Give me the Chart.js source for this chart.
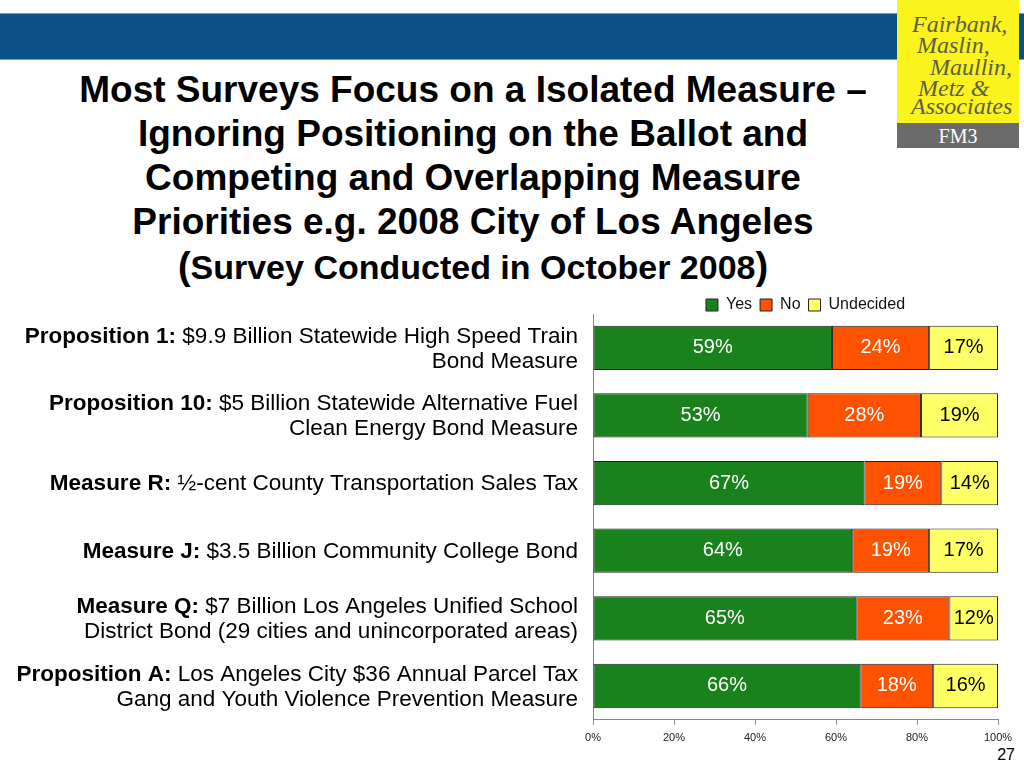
<!DOCTYPE html>
<html>
<head>
<meta charset="utf-8">
<script src="https://cdn.jsdelivr.net/npm/chart.js@4"></script>
<style>
  body { margin: 0; width: 1024px; height: 768px; position: relative; background: #fff; overflow: hidden;
         font-family: "Liberation Sans", Arial, sans-serif; }
  #band { position: absolute; left: 0; top: 13px; width: 1024px; height: 47px; background: #0a5089;
          border-top: 1px solid #6f9cc4; border-bottom: 1px solid #6f9cc4; box-sizing: border-box; }
  #logo { position: absolute; left: 897px; top: 0; width: 122px; height: 123px; background: #fbf31c; }
  #logo div { position: absolute; font-family: "Liberation Serif", "DejaVu Serif", serif; font-style: italic;
              font-size: 24px; color: #5e5d48; line-height: 21px; white-space: nowrap; }
  #fm3 { position: absolute; left: 897px; top: 123px; width: 122px; height: 25px; background: #6b6b6b;
         color: #fff; font-family: "Liberation Serif", serif; font-size: 20px; text-align: center; line-height: 27px; }
  #title { position: absolute; left: 0; top: 68px; width: 946px; text-align: center; font-weight: bold;
           font-size: 37px; line-height: 44px; color: #000; }
  #title .par { font-size: 38px; }
  #title .sub { font-size: 34px; }
  #page { position: absolute; right: 9px; top: 746px; font-size: 16px; color: #000; }
  #wrap { position: absolute; left: 0; top: 289px; width: 1024px; height: 467px; }
</style>
</head>
<body>
<div id="band"></div>
<div id="logo">
  <div style="left:15px;top:14px">Fairbank,</div>
  <div style="left:20px;top:35px">Maslin,</div>
  <div style="left:33px;top:57px">Maullin,</div>
  <div style="left:21px;top:78px">Metz &amp;</div>
  <div style="left:14px;top:96px">Associates</div>
</div>
<div id="fm3">FM3</div>
<div id="title">Most Surveys Focus on a Isolated Measure –<br>Ignoring Positioning on the Ballot and<br>Competing and Overlapping Measure<br>Priorities e.g. 2008 City of Los Angeles<br><span class="par">(</span><span class="sub">Survey Conducted in October 2008</span><span class="par">)</span></div>
<div id="page">27</div>
<div id="wrap"><canvas id="chart"></canvas></div>
<script>
// Datos de la encuesta (porcentajes)
const categoryTitles = ['Proposition 1:', 'Proposition 10:', 'Measure R:', 'Measure J:', 'Measure Q:', 'Proposition A:'];
const categoryDescs = [
  '$9.9 Billion Statewide High Speed Train\nBond Measure',
  '$5 Billion Statewide Alternative Fuel\nClean Energy Bond Measure',
  '½-cent County Transportation Sales Tax',
  '$3.5 Billion Community College Bond',
  '$7 Billion Los Angeles Unified School\nDistrict Bond (29 cities and unincorporated areas)',
  'Los Angeles City $36 Annual Parcel Tax\nGang and Youth Violence Prevention Measure'
];
const yesValues = [59, 53, 67, 64, 65, 66];
const noValues = [24, 28, 19, 19, 23, 18];
const undecidedValues = [17, 19, 14, 17, 12, 16];
const tickValues = [0, 20, 40, 60, 80, 100];

const FONT = '"Liberation Sans", Arial, sans-serif';
const LABEL_SIZE = 22.5;

// Etiquetas de categoria: parte en negrita + parte normal, alineadas a la derecha
const categoryLabels = {
  id: 'categoryLabels',
  afterDraw(chart) {
    const ctx = chart.ctx;
    const y = chart.scales.y;
    const right = chart.chartArea.left - 15;
    const lh = 25;
    ctx.save();
    ctx.fillStyle = '#000';
    ctx.textBaseline = 'middle';
    ctx.textAlign = 'left';
    categoryTitles.forEach((title, i) => {
      const lines = categoryDescs[i].split('\n');
      const cy = y.getPixelForValue(i) + 1;
      const top = cy - (lines.length - 1) * lh / 2;
      lines.forEach((line, j) => {
        const bold = j === 0 ? title + ' ' : '';
        ctx.font = 'bold ' + LABEL_SIZE + 'px ' + FONT;
        const bw = ctx.measureText(bold).width;
        ctx.font = LABEL_SIZE + 'px ' + FONT;
        const rw = ctx.measureText(line).width;
        const x0 = right - bw - rw;
        const ly = top + j * lh;
        if (bold) {
          ctx.font = 'bold ' + LABEL_SIZE + 'px ' + FONT;
          ctx.fillText(bold, x0, ly);
        }
        ctx.font = LABEL_SIZE + 'px ' + FONT;
        ctx.fillText(line, x0 + bw, ly);
      });
    });
    ctx.restore();
  }
};

// Valores dentro de cada segmento
const barValues = {
  id: 'barValues',
  afterDatasetsDraw(chart) {
    const ctx = chart.ctx;
    ctx.save();
    ctx.font = '20px ' + FONT;
    ctx.textAlign = 'center';
    ctx.textBaseline = 'middle';
    chart.data.datasets.forEach((ds, di) => {
      chart.getDatasetMeta(di).data.forEach((bar, i) => {
        const p = bar.getCenterPoint();
        ctx.fillStyle = di === 2 ? '#000' : '#fff';
        ctx.fillText(ds.data[i] + '%', p.x, p.y);
      });
    });
    ctx.restore();
  }
};

// La leyenda queda un poco a la derecha del centro del area
const legendShift = {
  id: 'legendShift',
  afterLayout(chart) {
    chart.legend.left += 10;
    chart.legend.right += 10;
  }
};

const data = {
  labels: categoryTitles,
  datasets: [
    { label: 'Yes', data: yesValues, backgroundColor: '#1a821d' },
    { label: 'No', data: noValues, backgroundColor: '#fe5200' },
    { label: 'Undecided', data: undecidedValues, backgroundColor: '#ffff66' }
  ].map(d => Object.assign(d, {
    borderColor: '#222', borderWidth: 1, borderSkipped: false,
    categoryPercentage: 1, barPercentage: 0.655
  }))
};

const config = {
  type: 'bar',
  data: data,
  options: {
    indexAxis: 'y',
    responsive: true,
    maintainAspectRatio: false,
    animation: false,
    layout: { padding: { top: 0, right: 26, bottom: 4 } },
    scales: {
      x: {
        stacked: true,
        min: 0, max: 100,
        afterBuildTicks: (axis) => { axis.ticks = tickValues.map(v => ({ value: v })); },
        ticks: { callback: (v) => v + '%', color: '#222', font: { family: FONT, size: 11 }, padding: 7 },
        grid: { drawOnChartArea: false, drawTicks: true, tickLength: 5, color: '#888' },
        border: { color: '#888' }
      },
      y: {
        stacked: true,
        ticks: { display: false },
        grid: { display: false },
        border: { color: '#888' },
        afterFit: (axis) => { axis.width = 593; }
      }
    },
    plugins: {
      legend: {
        position: 'top',
        fullSize: false,
        maxHeight: 25,
        labels: {
          boxWidth: 12, boxHeight: 12, padding: 8, color: '#111',
          font: { family: FONT, size: 16 },
          generateLabels: (chart) => chart.data.datasets.map((ds, i) => ({
            text: ds.label, fillStyle: ds.backgroundColor, strokeStyle: '#222', lineWidth: 1,
            datasetIndex: i, fontColor: '#111'
          }))
        }
      },
      tooltip: { enabled: false }
    }
  },
  plugins: [categoryLabels, barValues, legendShift]
};

const ctx = document.getElementById('chart').getContext('2d');
new Chart(ctx, config);
</script>
</body>
</html>
